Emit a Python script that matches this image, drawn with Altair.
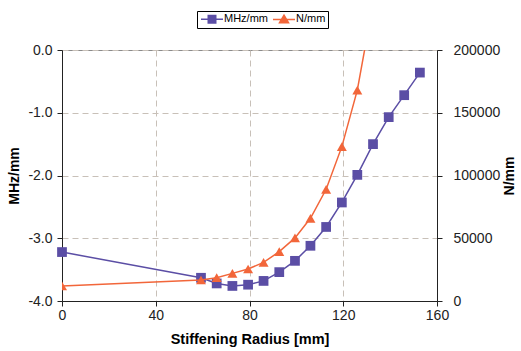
import altair as alt
import pandas as pd

radius = [0, 59.3, 66, 72.7, 79.4, 86, 92.7, 99.4, 106, 112.7, 119.4, 126, 132.7, 139.4, 146, 152.7]
mhz_per_mm = [-3.22, -3.63, -3.72, -3.76, -3.74, -3.68, -3.54, -3.36, -3.12, -2.82, -2.43, -1.99, -1.50, -1.07, -0.72, -0.36]
n_per_mm = [12000, 16700, 18600, 22000, 25500, 30800, 39300, 50300, 65900, 89000, 123000, 168000, 237000]
series = ["MHz/mm", "N/mm"]
colors = ["#5B4EA5", "#F2663A"]
x_ticks = [0, 40, 80, 120, 160]
y_left_ticks = [-4, -3, -2, -1, 0]
y_right_ticks = [0, 50000, 100000, 150000, 200000]

df_a = pd.DataFrame({"r": radius, "v": mhz_per_mm, "s": series[0]})
df_b = pd.DataFrame({"r": radius[:len(n_per_mm)], "v": n_per_mm, "s": series[1]})

FONT = "Liberation Sans"
AX = "#222222"
GRID = "#C8C0B8"

# legend glyphs: short line with a marker on it
sq_path = "M-2.2,0H2.2M-0.75,-0.75H0.75V0.75H-0.75Z"
tri_path = "M-2.2,0H2.2M0,-0.85L0.9,0.65H-0.9Z"

legend = alt.Legend(
    title=None,
    orient="none",
    legendX=135,
    legendY=-39,
    direction="horizontal",
    columns=2,
    strokeColor="#000000",
    padding=2,
    labelFont=FONT,
    labelFontSize=11,
    labelColor="#000000",
    symbolSize=100,
    symbolOffset=7,
    symbolOpacity=1,
    symbolStrokeWidth=1.5,
    labelOffset=6,
    columnPadding=2,
)

color = alt.Color("s:N", scale=alt.Scale(domain=series, range=colors), legend=legend)
shape = alt.Shape("s:N", scale=alt.Scale(domain=series, range=[sq_path, tri_path]), legend=legend)

x = alt.X(
    "r:Q",
    scale=alt.Scale(domain=[0, 160], nice=False, zero=False),
    axis=alt.Axis(
        values=x_ticks,
        title="Stiffening Radius [mm]",
        grid=True,
        gridDash=[6, 4],
        gridColor=GRID,
        labelFlush=False,
        labelPadding=2,
        titlePadding=10,
        titleFontSize=14.5,
    ),
)

left = alt.Chart(df_a).encode(
    x=x,
    y=alt.Y(
        "v:Q",
        scale=alt.Scale(domain=[-4, 0], nice=False, zero=False),
        axis=alt.Axis(
            values=y_left_ticks,
            title="MHz/mm",
            labelExpr="replace(format(datum.value, '.1f'), '\u2212', '-')",
            grid=True,
            gridDash=[6, 4],
            gridColor=GRID,
            labelFlush=False,
            labelPadding=5,
            titlePadding=6,
        ),
    ),
    color=color,
)
legend_layer = left.mark_point(filled=True, opacity=0).encode(shape=shape)
left_layer = (
    legend_layer
    + left.mark_line(strokeWidth=1.5)
    + left.mark_point(shape="square", size=95, filled=True, opacity=1)
)

right = alt.Chart(df_b).encode(
    x=x,
    y=alt.Y(
        "v:Q",
        scale=alt.Scale(domain=[0, 200000], nice=False, zero=False),
        axis=alt.Axis(
            values=y_right_ticks,
            orient="right",
            title="N/mm",
            format="d",
            grid=False,
            labelFlush=False,
            labelPadding=11,
            titlePadding=17,
            titleAngle=270,
        ),
    ),
    color=color,
)
right_layer = right.mark_line(strokeWidth=1.5, clip=True) + right.mark_point(
    shape="triangle-up", size=100, filled=True, opacity=1, clip=True
)

chart = (
    alt.layer(left_layer, right_layer)
    .resolve_scale(y="independent")
    .properties(
        width=375,
        height=251,
        autosize=alt.AutoSizeParams(type="none"),
        padding={"left": 62, "top": 50, "right": 84, "bottom": 50},
        background="white",
    )
    .configure_view(stroke="#8A8A8A", strokeWidth=1)
    .configure_axis(
        labelFont=FONT,
        titleFont=FONT,
        labelFontSize=14,
        titleFontSize=14,
        labelColor="#222222",
        titleColor="#000000",
        titleFontWeight="bold",
        domainColor=AX,
        tickColor=AX,
        tickSize=5,
        domainWidth=1,
    )
)

chart.save("out.html", embed_options={"renderer": "svg", "actions": False})
